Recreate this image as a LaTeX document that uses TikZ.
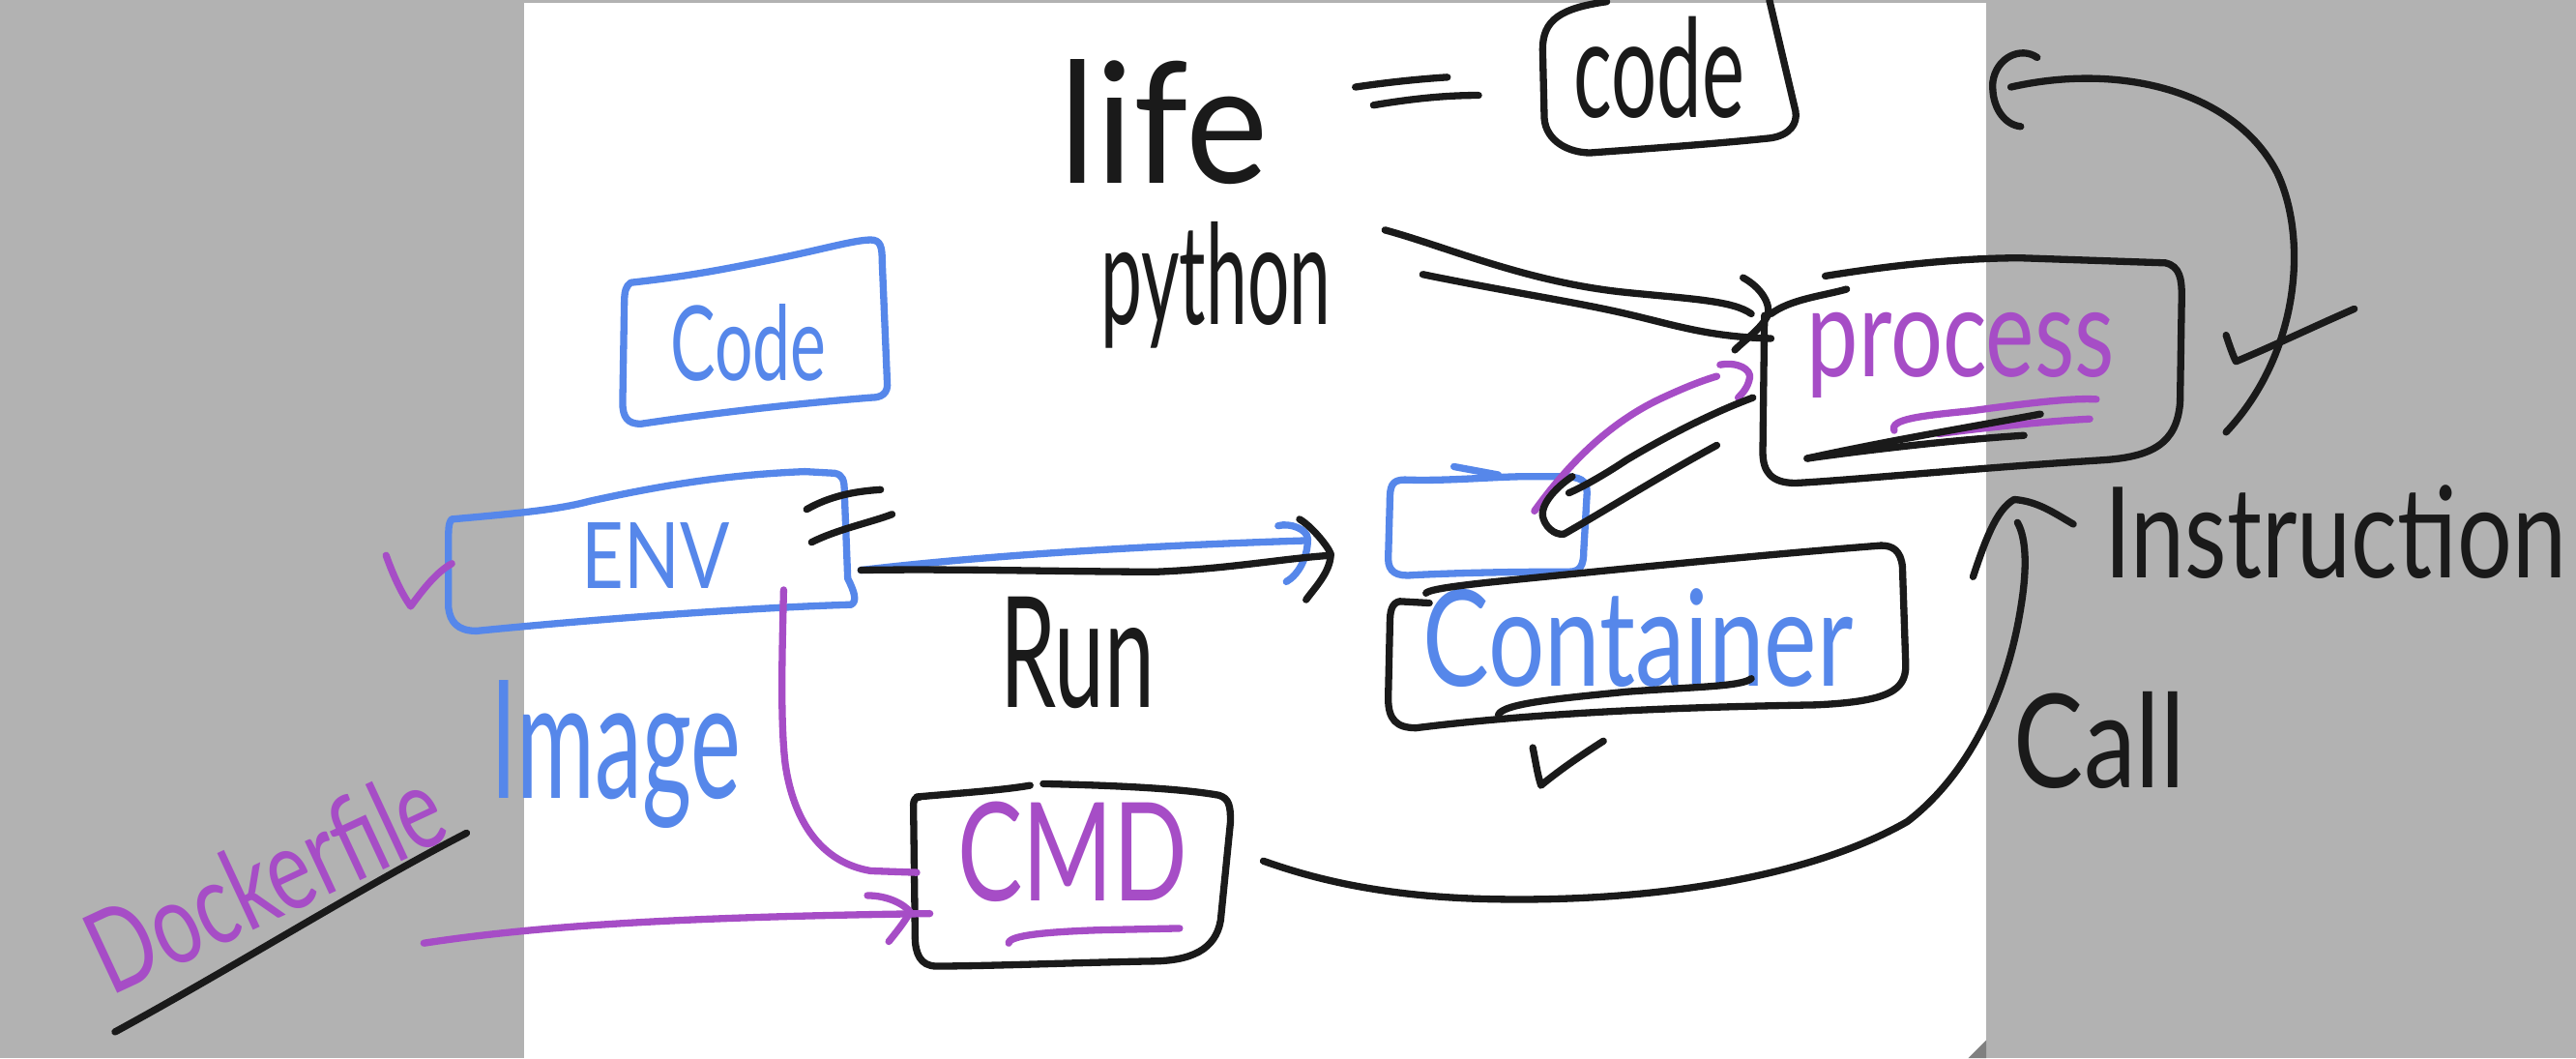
\documentclass[tikz,border=0pt]{standalone}
\usepackage{fontspec}
\setmainfont{Lato}
\usepackage{graphicx}
\definecolor{inkblack}{HTML}{1A1A1A}
\definecolor{inkblue}{HTML}{5687EA}
\definecolor{inkpurple}{HTML}{A64DC6}
\definecolor{bggray}{HTML}{B2B2B2}
\definecolor{foldgray}{HTML}{808080}
\newcommand\hwtext[3]{\resizebox*{#1pt}{#2pt}{#3}}
\tikzset{
  ink/.style={line width=4.3pt, line cap=round, line join=round},
  blk/.style={ink, draw=inkblack},
  blu/.style={ink, draw=inkblue},
  pur/.style={ink, draw=inkpurple},
  txt/.style={inner sep=0pt, outer sep=0pt, anchor=center},
}
\begin{document}
\begin{tikzpicture}[x=1pt,y=-1pt]
\useasboundingbox (0,0) rectangle (1568,644);
% background
\fill[bggray] (0,0) rectangle (1568,644);
\fill[white] (319,1.5) rectangle (1209,644);
\fill[foldgray] (1198,644) -- (1209,633) -- (1209,644) -- cycle;

% ---- texts ----
\node[txt, text=inkblack] (life) at (708.5,74) {\hwtext{127}{76}{life}};
\node[txt, text=inkblack] (codetop) at (1010,41) {\hwtext{104}{62}{code}};
\node[txt, text=inkblack] (python) at (740,173.5) {\hwtext{140}{77}{python}};
\node[txt, text=inkblue] (codeblue) at (455.5,208.5) {\hwtext{95}{47}{Code}};
\node[txt, text=inkblue] (env) at (399,338) {\hwtext{90}{40}{ENV}};
\node[txt, text=inkblack] (run) at (656,397) {\hwtext{94}{68}{Run}};
\node[txt, text=inkblue] (image) at (375,459) {\hwtext{152}{90}{Image}};
\node[txt, text=inkblue] (container) at (997,388) {\hwtext{262}{60}{Container}};
\node[txt, text=inkpurple] (process) at (1193.5,216) {\hwtext{187}{52}{process}};
\node[txt, text=inkpurple] (cmd) at (653,518.5) {\hwtext{140}{61}{CMD}};
\node[txt, text=inkblack] (instruction) at (1421.5,323.5) {\hwtext{281}{57}{Instruction}};
\node[txt, text=inkblack] (call) at (1278,450.5) {\hwtext{104}{59}{Call}};
\node[txt, text=inkpurple, rotate=25] (dockerfile) at (161,535) {\hwtext{230}{52}{Dockerfile}};

% ---- connector end points ----
\coordinate (envR) at (524,347);
\coordinate (runTipBlue) at (795,329);
\coordinate (runTipBlack) at (810,338);
\coordinate (envBot) at (477,359);
\coordinate (cmdL) at (558,531);
\coordinate (dockStart) at (258,574);
\coordinate (cmdLArrow) at (566,556);
\coordinate (cmdR) at (769,524);
\coordinate (callTip) at (1228,318);
\coordinate (pyA) at (843,140);
\coordinate (pyB) at (866,167);
\coordinate (procL) at (1066,191);
\coordinate (procL2) at (1078,206);
\coordinate (smallBox) at (934,311);
\coordinate (procPur) at (1045,229);
\coordinate (procR) at (1355,263);
\coordinate (codeHook) at (1224,53);

% ---- top code box and equals ----
\draw[blk] (978,1) .. controls (950,5) and (939,12) .. (939,30) -- (940,72)
  .. controls (941,86) and (955,93) .. (968,93)
  .. controls (1010,90) and (1050,87) .. (1078,84)
  .. controls (1090,82) and (1094,75) .. (1093,68) -- (1077,0);
\draw[blk] (825,53) .. controls (845,50) and (865,48) .. (881,47);
\draw[blk] (836,64) .. controls (860,60) and (880,58) .. (900,58);

% ---- python -> process ----
\draw[blk] (pyA) .. controls (880,150) and (930,172) .. (990,178)
  .. controls (1030,182) and (1055,183) .. (procL);
\draw[blk] (pyB) .. controls (920,178) and (960,184) .. (990,191)
  .. controls (1020,198) and (1040,205) .. (procL2);
\draw[blk] (1061,169) .. controls (1072,175) and (1078,185) .. (1076,192)
  .. controls (1072,200) and (1062,207) .. (1056,213);

% ---- process box ----
\draw[blk] (1078,191) .. controls (1090,182) and (1110,180) .. (1124,176);
\draw[blk] (1111,168) .. controls (1160,160) and (1200,157) .. (1230,157) -- (1318,160)
  .. controls (1327,162) and (1328,170) .. (1328,180) -- (1327,245)
  .. controls (1325,270) and (1310,278) .. (1280,280)
  .. controls (1200,285) and (1130,292) .. (1093,294)
  .. controls (1078,294) and (1073,287) .. (1073,275) -- (1074,192);
\draw[pur] (1153,262) .. controls (1150,255) and (1170,253) .. (1200,250)
  .. controls (1230,246) and (1260,242) .. (1276,243);
\draw[pur] (1180,264) .. controls (1210,260) and (1250,256) .. (1272,255);
\draw[blk] (1100,279) .. controls (1150,268) and (1210,258) .. (1242,252);
\draw[blk] (1100,279) .. controls (1150,272) and (1200,267) .. (1232,265);

% ---- small blue box ----
\draw[blu] (885,284) -- (912,289);
\draw[blu] (930,290) .. controls (910,290) and (880,293) .. (855,292)
  .. controls (847,292) and (846,296) .. (846,305) -- (845,340)
  .. controls (845,348) and (850,351) .. (860,350)
  .. controls (900,348) and (940,348) .. (955,348)
  .. controls (962,348) and (964,344) .. (964,335) -- (966,300)
  .. controls (966,292) and (962,290) .. (950,290) -- cycle;

% ---- small box -> process ----
\draw[pur] (smallBox) .. controls (960,275) and (985,255) .. (1010,243)
  .. controls (1025,236) and (1035,232) .. (procPur);
\draw[pur] (1047,222) .. controls (1058,220) and (1066,225) .. (1065,230)
  .. controls (1064,236) and (1060,240) .. (1058,242);
\draw[blk] (1067,242) .. controls (1040,252) and (1010,268) .. (990,280)
  .. controls (975,290) and (962,297) .. (955,300);
\draw[blk] (957,290) .. controls (945,298) and (938,308) .. (939,314)
  .. controls (940,320) and (946,326) .. (952,325);
\draw[blk] (952,325) .. controls (975,312) and (1010,290) .. (1045,271);

% ---- container box ----
\draw[blk] (870,367) -- (852,366) .. controls (847,367) and (846,372) .. (846,380) -- (845,425)
  .. controls (845,438) and (850,443) .. (862,443)
  .. controls (950,432) and (1050,430) .. (1105,429)
  .. controls (1150,427) and (1160,420) .. (1160,405) -- (1158,345)
  .. controls (1157,335) and (1152,332) .. (1145,332);
\draw[blk] (868,361) .. controls (870,358) and (900,355) .. (930,352)
  .. controls (1000,345) and (1080,337) .. (1145,332);
\draw[blk] (912,435) .. controls (915,428) and (950,425) .. (990,421)
  .. controls (1030,418) and (1060,418) .. (1066,413);
\draw[blk] (933,455) .. controls (935,465) and (936,472) .. (938,478)
  .. controls (950,468) and (965,458) .. (976,451);

% ---- ENV box ----
\draw[blu] (275,316) .. controls (320,312) and (340,310) .. (359,305)
  .. controls (400,296) and (440,289) .. (490,287) -- (508,288)
  .. controls (513,289) and (514,292) .. (514,300) -- (516,352)
  .. controls (520,360) and (522,366) .. (518,368)
  .. controls (450,370) and (350,378) .. (290,384)
  .. controls (278,384) and (274,378) .. (273,370) -- (273,325)
  .. controls (273,319) and (274,317) .. (275,316);
\draw[blk] (491,310) .. controls (505,302) and (520,299) .. (536,298);
\draw[blk] (494,330) .. controls (510,322) and (530,318) .. (543,313);
\draw[pur] (235,338) .. controls (240,352) and (245,362) .. (250,369)
  .. controls (258,358) and (266,348) .. (275,343);

% ---- Run arrows ----
\draw[blu] (envR) .. controls (600,338) and (700,332) .. (runTipBlue);
\draw[blu] (778,320) .. controls (785,318) and (796,322) .. (796,328)
  .. controls (796,340) and (790,350) .. (783,354);
\draw[blk] (envR) .. controls (580,346) and (650,348) .. (704,348)
  .. controls (750,346) and (780,340) .. (runTipBlack);
\draw[blk] (791,316) .. controls (798,320) and (808,332) .. (810,337)
  .. controls (810,348) and (800,358) .. (795,365);

% ---- blue Code box ----
\draw[blu] (384,172) .. controls (420,168) and (440,164) .. (470,158)
  .. controls (500,152) and (520,146) .. (530,146)
  .. controls (536,146) and (537,150) .. (537,160) -- (540,232)
  .. controls (541,240) and (536,242) .. (530,242)
  .. controls (480,246) and (430,252) .. (390,258)
  .. controls (382,258) and (379,254) .. (379,245) -- (380,185)
  .. controls (380,177) and (381,174) .. (384,172);

% ---- CMD box ----
\draw[blk] (558,485) .. controls (580,483) and (610,481) .. (627,478);
\draw[blk] (635,477) .. controls (680,478) and (720,480) .. (742,484)
  .. controls (748,486) and (749,490) .. (749,500) -- (743,560)
  .. controls (740,578) and (725,585) .. (700,585)
  .. controls (650,586) and (600,588) .. (570,588)
  .. controls (560,588) and (557,580) .. (557,570) -- (556,490)
  .. controls (556,487) and (557,485) .. (560,485);
\draw[pur] (614,574) .. controls (614,569) and (640,567) .. (670,566) -- (718,565);

% ---- ENV -> CMD, Dockerfile -> CMD ----
\draw[pur] (envBot) .. controls (476,400) and (475,440) .. (478,465)
  .. controls (483,500) and (500,525) .. (530,530) -- (cmdL);
\draw[pur] (dockStart) .. controls (330,563) and (420,558) .. (cmdLArrow);
\draw[pur] (528,545) .. controls (540,545) and (550,550) .. (554,555)
  .. controls (550,562) and (545,568) .. (541,573);
\draw[blk] (70,628) .. controls (140,590) and (220,540) .. (284,507);

% ---- CMD -> call ----
\draw[blk] (cmdR) .. controls (800,535) and (840,545) .. (900,547)
  .. controls (1000,550) and (1100,535) .. (1161,500)
  .. controls (1200,470) and (1222,420) .. (1230,370)
  .. controls (1235,340) and (1232,325) .. (callTip);
\draw[blk] (1201,351) .. controls (1208,330) and (1215,310) .. (1226,304)
  .. controls (1240,305) and (1250,312) .. (1262,319);

% ---- process -> code (right curve) ----
\draw[blk] (1240,35) .. controls (1230,28) and (1215,35) .. (1213,50)
  .. controls (1212,65) and (1220,76) .. (1230,77);
\draw[blk] (codeHook) .. controls (1290,38) and (1360,55) .. (1386,105)
  .. controls (1405,145) and (1400,215) .. (procR);
\draw[blk] (1355,204) .. controls (1357,210) and (1359,216) .. (1361,220)
  .. controls (1385,210) and (1410,198) .. (1433,188);
\end{tikzpicture}
\end{document}
